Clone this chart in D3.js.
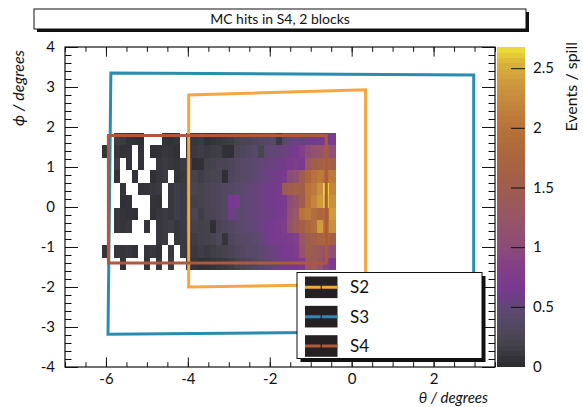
<!DOCTYPE html>
<html><head><meta charset="utf-8">
<script src="https://cdn.jsdelivr.net/npm/d3@7"></script>
<style>
body{margin:0;background:#fff;}
text{font-family:Lato,"Noto Sans","DejaVu Sans",sans-serif;fill:#111;}
</style>
</head><body>
<svg id="c" width="583" height="407"></svg>
<script>
// ---------------- data ----------------
const title = "MC hits in S4, 2 blocks";
const xTicks = [-6, -4, -2, 0, 2];
const yTicks = [-4, -3, -2, -1, 0, 1, 2, 3, 4];
const zTicks = [0, 0.5, 1, 1.5, 2, 2.5];
const xDomain = [-7, 3.5];
const yDomain = [-4, 4];
const zMax = 2.68;
// histogram bin ranges (theta, phi) in degrees
const thetaRange = [-6.09, -0.40];
const phiRange = [-1.575, 1.86];
// events / spill, rows from top (phi high) to bottom, 39 theta bins each; null = empty bin
const rows = [
 [null,null,.15,.12,.06,.05,.04,null,null,null,.06,.05,.08,null, .06,.1,.12,.05,.08,.1,.12,.14,.2,.25,.25,.3,.35,.38,.4,.12,.42,.5,.55,.5,.6,.62,.65,.6,.68],
 [.08,null,.1,.06,.08,null,.06,null,.05,.06,.1,.08,.05,null, .1,.12,.15,.12,.14,.15,.05,.04,.25,.3,.35,.4,.22,.45,.5,.52,.55,.6,.65,.8,1.0,1.15,1.2,1.3,1.1],
 [null,null,.15,null,.08,null,.06,null,null,.1,.12,.1,.08,.12, .15,.04,.05,.18,.2,.25,.25,.3,.35,.4,.42,.45,.5,.52,.55,.6,.62,.7,.75,.7,1.3,1.5,1.6,1.7,1.6],
 [null,null,.08,null,null,.06,null,null,.05,.1,.12,null,.08,.1, .18,.2,.15,.2,.22,.25,.04,.3,.35,.4,.42,.45,.5,.55,.6,.62,.7,1.0,1.1,1.5,1.8,2.0,2.1,2.0,2.1],
 [null,null,null,.08,null,null,.06,.08,.1,.12,null,.1,.15,.12, .2,.22,.2,.25,.28,.3,.35,.38,.4,.45,.5,.52,.55,.6,.62,.65,1.4,1.5,1.6,1.55,2.0,2.1,2.3,2.65,2.2],
 [null,null,null,.05,.06,null,null,null,.08,.06,null,.1,.15,.12, .15,.18,.2,.25,.28,.3,.35,.65,.7,.45,.5,.52,.55,.6,.62,.65,.7,1.0,1.2,1.5,2.0,2.2,2.4,2.6,2.3],
 [null,null,.1,.08,.06,.05,null,null,.06,.1,.12,.1,.15,.12, .18,.25,.15,.22,.25,.3,.35,.6,.5,.45,.5,.52,.55,.58,.6,.65,.7,1.1,1.3,2.0,2.1,1.9,1.8,1.9,2.4],
 [null,null,.1,.08,.1,null,null,.08,null,.1,.12,.15,.1,.12, .15,.2,.18,.2,.04,.25,.3,.35,.4,.45,.48,.5,.55,.6,.65,.7,.75,1.2,1.4,1.6,1.8,1.9,2.4,2.0,2.3],
 [null,null,null,null,null,null,null,null,null,.1,.12,null,.1,.12, .12,.15,.18,.2,.22,.3,.08,.3,.35,.4,.42,.45,.5,.6,.65,.7,.72,.75,.8,1.3,1.5,1.6,1.7,1.8,1.6],
 [.08,null,.1,.08,.1,.06,null,.08,.1,.06,null,.1,null,.12, .1,.12,.15,.12,.15,.18,.2,.25,.3,.35,.4,.42,.45,.5,.55,.6,.65,.7,.75,1.2,1.5,1.4,1.3,1.2,1.1],
 [null,null,null,.06,null,null,null,.08,null,.1,null,.12,null,null, .06,.08,.05,.06,.08,.1,.12,.15,.2,.25,.3,.35,.4,.45,.5,.55,.6,.62,.65,.75,1.3,1.4,1.2,.9,.7]
];
// station outlines (theta, phi) corners
const boxNames = ["S2", "S3", "S4"];
const boxS2 = [[-3.98,-2.0],[-3.98,2.8],[0.34,2.93],[0.34,-1.93]];
const boxS3 = [[-5.95,-3.18],[-5.88,3.35],[2.98,3.3],[2.98,-3.1]];
const boxS4 = [[-5.94,-1.4],[-5.94,1.79],[-0.62,1.79],[-0.62,-1.4]];

// ---------------- style ----------------
const boxColors = {S2:"#f5a640", S3:"#2a8cae", S4:"#b0583a"};
const F = {l:65, r:495, t:47, b:367};
const svg = d3.select("#c");

const x = d3.scaleLinear(xDomain, [F.l, F.r]);
const y = d3.scaleLinear(yDomain, [F.b, F.t]);
const zStops = [0, 0.2, 0.45, 0.65, 0.85, 1.0, 1.25, 1.5, 1.8, 2.05, 2.35, 2.55, 2.68];
const zCols = ["#2b2a2f","#46434d","#5b4a6e","#773a90","#843f86","#8c4c78","#965566","#9f5d4c","#ad673d","#ba763a","#cc943d","#dcb23b","#ece236"];
const color = d3.scaleLinear(zStops, zCols).clamp(true);

// ---------------- heatmap ----------------
const nC = rows[0].length, nR = rows.length;
const dT = (thetaRange[1]-thetaRange[0])/nC, dP = (phiRange[1]-phiRange[0])/nR;
const cells = [];
rows.forEach((row, r) => row.forEach((v, c) => {
  if (v != null && v > 0) cells.push({t0: thetaRange[0]+c*dT, p1: phiRange[1]-r*dP, v});
}));
svg.append("g").attr("shape-rendering","crispEdges").selectAll("rect").data(cells).join("rect")
  .attr("x", d => x(d.t0)).attr("y", d => y(d.p1))
  .attr("width", d => x(d.t0+dT)-x(d.t0)+0.3).attr("height", d => y(d.p1-dP)-y(d.p1)+0.3)
  .attr("fill", d => color(d.v));

// ---------------- station boxes ----------------
const boxes = {S2: boxS2, S3: boxS3, S4: boxS4};
const line = d3.line().x(d => x(d[0])).y(d => y(d[1])).curve(d3.curveLinearClosed);
["S3","S2","S4"].forEach(n => {
  svg.append("path").attr("d", line(boxes[n])).attr("fill","none")
    .attr("stroke", boxColors[n]).attr("stroke-width", 3).attr("stroke-linejoin","miter");
});

// ---------------- frame & axes ----------------
const fmt = d => String(d);
const minorX = d3.range(-7, 3.51, 0.5);
const minorY = d3.range(-4, 4.01, 0.2).map(v => +v.toFixed(2));
function styleAxis(g){ g.select(".domain").remove(); g.selectAll("line").attr("stroke","#111"); }
svg.append("g").attr("transform",`translate(0,${F.b})`)
  .call(d3.axisBottom(x).tickValues(xTicks).tickFormat(fmt).tickSize(-9.6).tickPadding(6))
  .call(styleAxis).selectAll("text").attr("font-size",15).attr("font-family","Lato").attr("fill","#111");
svg.append("g").attr("transform",`translate(0,${F.b})`)
  .call(d3.axisBottom(x).tickValues(minorX).tickFormat("").tickSize(-4.8)).call(styleAxis);
svg.append("g").attr("transform",`translate(0,${F.t})`)
  .call(d3.axisTop(x).tickValues(xTicks).tickFormat("").tickSize(-9.6)).call(styleAxis);
svg.append("g").attr("transform",`translate(0,${F.t})`)
  .call(d3.axisTop(x).tickValues(minorX).tickFormat("").tickSize(-4.8)).call(styleAxis);
svg.append("g").attr("transform",`translate(${F.l},0)`)
  .call(d3.axisLeft(y).tickValues(yTicks).tickFormat(fmt).tickSize(-13).tickPadding(10))
  .call(styleAxis).selectAll("text").attr("font-size",15).attr("font-family","Lato").attr("fill","#111");
svg.append("g").attr("transform",`translate(${F.l},0)`)
  .call(d3.axisLeft(y).tickValues(minorY).tickFormat("").tickSize(-6.5)).call(styleAxis);
svg.append("g").attr("transform",`translate(${F.r},0)`)
  .call(d3.axisRight(y).tickValues(yTicks).tickFormat("").tickSize(-13)).call(styleAxis);
svg.append("g").attr("transform",`translate(${F.r},0)`)
  .call(d3.axisRight(y).tickValues(minorY).tickFormat("").tickSize(-6.5)).call(styleAxis);
svg.append("rect").attr("x",F.l).attr("y",F.t).attr("width",F.r-F.l).attr("height",F.b-F.t)
  .attr("fill","none").attr("stroke","#111").attr("stroke-width",1.2);

// axis titles
svg.append("text").attr("x", 488).attr("y", 403).attr("text-anchor","end")
  .attr("font-size",15).attr("font-style","italic").text("θ / degrees");
svg.append("text").attr("transform","translate(24,50) rotate(-90)").attr("text-anchor","end")
  .attr("font-size",16).attr("font-style","italic").text("ϕ / degrees");

// ---------------- legend ----------------
const L = {x:297, y:272.5, w:185, h:86};
svg.append("rect").attr("x",L.x+3.5).attr("y",L.y+3.5).attr("width",L.w).attr("height",L.h).attr("fill","#111");
svg.append("rect").attr("x",L.x).attr("y",L.y).attr("width",L.w).attr("height",L.h).attr("fill","#fff").attr("stroke","#111");
const ly = d3.scalePoint(boxNames, [L.y+14.8, L.y+73.5]);
boxNames.forEach(n => {
  const cy = ly(n);
  svg.append("rect").attr("x",305).attr("y",cy-10.8).attr("width",32.5).attr("height",21.6).attr("fill","#252122");
  svg.append("line").attr("x1",305).attr("x2",337.5).attr("y1",cy).attr("y2",cy).attr("stroke",boxColors[n]).attr("stroke-width",3);
  svg.append("line").attr("x1",321.2).attr("x2",321.2).attr("y1",cy-2).attr("y2",cy+2).attr("stroke","#111").attr("stroke-width",1);
  svg.append("text").attr("x",350).attr("y",cy).attr("dy","0.36em").attr("font-size",17).text(n);
});

// ---------------- colour bar ----------------
const CB = {l:497, r:525};
const zy = d3.scaleLinear([0, zMax], [366.5, 46.7]);
const nLev = 60;
const levs = d3.range(nLev).map(i => i*zMax/nLev);
svg.append("g").attr("shape-rendering","crispEdges").selectAll("rect").data(levs).join("rect")
  .attr("x",CB.l).attr("width",CB.r-CB.l)
  .attr("y", d => zy(d+zMax/nLev)).attr("height", d => zy(d)-zy(d+zMax/nLev)+0.5)
  .attr("fill", d => color(d + zMax/nLev/2));
svg.append("g").attr("transform",`translate(${CB.r},0)`)
  .call(d3.axisRight(zy).tickValues(zTicks.filter(v=>v>0)).tickFormat(fmt).tickSize(-14).tickPadding(8))
  .call(styleAxis).selectAll("text").attr("font-size",15).attr("font-family","Lato").attr("fill","#111");
svg.append("text").attr("x",533).attr("y",zy(0)).attr("dy","0.36em").attr("font-size",15).text("0");
svg.append("text").attr("transform","translate(577,42) rotate(-90)").attr("text-anchor","end")
  .attr("font-size",16).text("Events / spill");

// ---------------- title ----------------
svg.append("rect").attr("x",37).attr("y",12).attr("width",492).attr("height",20).attr("fill","#111");
svg.append("rect").attr("x",34).attr("y",9).attr("width",492).attr("height",20).attr("fill","#fff").attr("stroke","#111");
svg.append("text").attr("x",280).attr("y",19).attr("dy","0.36em").attr("text-anchor","middle")
  .attr("font-size",14).text(title);
</script>
</body></html>
